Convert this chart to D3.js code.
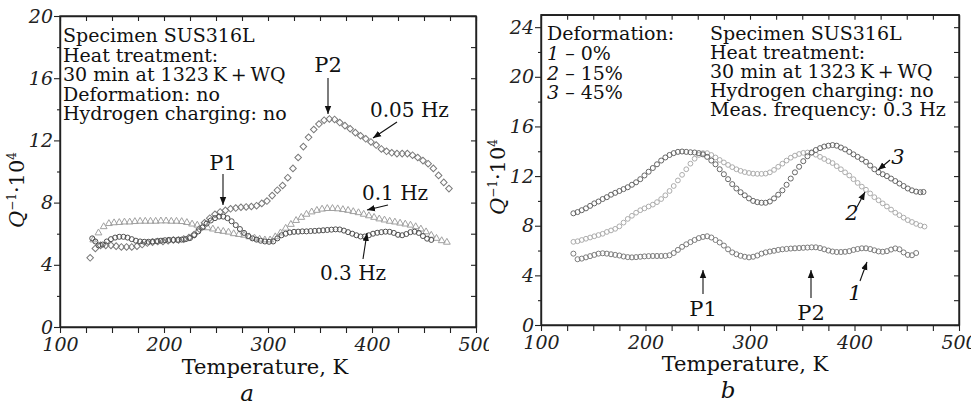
<!DOCTYPE html>
<html>
<head>
<meta charset="utf-8">
<script src="https://cdn.jsdelivr.net/npm/d3@7"></script>
<style>
body { margin: 0; background: #fff; }
svg { display: block; font-family: "DejaVu Serif", serif; }
.tick text { font-family: "DejaVu Serif", serif; font-style: italic; font-size: 19px; fill: #222; }
.info { font-size: 19px; fill: #111; }
</style>
</head>
<body>
<script>
const W = 971, H = 405;

// panel a: Q^-1 x 10^4 vs temperature, three frequencies  [T, Q]
const hz005 = [[129,4.45],[134,5.05],[139,5.25],[144,5.25],[149,5.25],[154,5.2],[159,5.15],[164,5.15],[169,5.15],[174,5.2],
  [179,5.3],[184,5.4],[189,5.45],[194,5.5],[199,5.5],[204,5.55],[209,5.6],[214,5.6],[219,5.65],[224,5.75],[229,5.95],
  [234,6.3],[239,6.7],[244,7.0],[249,7.25],[254,7.4],[259,7.5],[264,7.6],[269,7.65],[274,7.7],[279,7.72],[284,7.75],
  [289,7.8],[294,7.95],[299,8.1],[304,8.45],[309,8.8],[314,9.1],[319,9.6],[324,10.2],[329,10.9],[334,11.6],[339,12.2],
  [344,12.7],[349,13.05],[354,13.3],[359,13.38],[364,13.35],[369,13.15],[374,12.95],[379,12.75],[384,12.5],[389,12.3],
  [394,12.1],[399,11.9],[404,11.7],[409,11.45],[414,11.3],[419,11.2],[424,11.15],[429,11.15],[434,11.15],[439,11.05],
  [444,10.9],[449,10.7],[454,10.5],[459,10.2],[464,9.75],[469,9.3],[474,8.9]];
const hz01 = [[132,5.6],[137,6.05],[142,6.45],[147,6.65],[152,6.7],[157,6.72],[162,6.75],[167,6.75],[172,6.78],[177,6.8],
  [182,6.8],[187,6.8],[192,6.8],[197,6.82],[202,6.82],[207,6.8],[212,6.8],[217,6.78],[222,6.72],[227,6.62],[232,6.55],
  [237,6.45],[242,6.38],[247,6.3],[252,6.2],[257,6.15],[262,6.1],[267,6.0],[272,5.95],[277,5.9],[282,5.8],[287,5.72],
  [292,5.65],[297,5.6],[302,5.6],[307,5.8],[312,6.05],[317,6.35],[322,6.6],[327,6.85],[332,7.05],[337,7.25],[342,7.4],
  [347,7.5],[352,7.58],[357,7.62],[362,7.62],[367,7.6],[372,7.55],[377,7.5],[382,7.42],[387,7.35],[392,7.25],[397,7.15],
  [402,7.05],[407,6.95],[412,6.88],[417,6.8],[422,6.75],[427,6.68],[432,6.62],[437,6.55],[442,6.45],[447,6.3],[452,6.12],
  [457,5.9],[462,5.7],[467,5.55],[472,5.45]];
const hz03 = [[131,5.7],[134,5.5],[137,5.25],[141,5.3],[145,5.5],[149,5.65],[153,5.75],[157,5.8],[161,5.8],[165,5.75],
  [169,5.65],[173,5.55],[177,5.5],[181,5.48],[185,5.48],[189,5.5],[193,5.52],[197,5.55],[201,5.58],[205,5.6],[209,5.6],
  [213,5.6],[217,5.62],[221,5.65],[225,5.72],[229,5.9],[233,6.15],[237,6.4],[241,6.65],[245,6.85],[249,7.0],[253,7.1],
  [257,7.1],[261,7.0],[265,6.8],[269,6.55],[273,6.3],[277,6.05],[281,5.85],[285,5.7],[289,5.62],[293,5.55],[297,5.5],
  [301,5.48],[305,5.5],[309,5.7],[313,5.9],[317,6.0],[321,6.08],[325,6.12],[329,6.13],[333,6.15],[337,6.15],[341,6.17],
  [345,6.18],[349,6.2],[353,6.22],[357,6.24],[361,6.26],[365,6.28],[369,6.27],[373,6.2],[377,6.1],[381,6.0],[385,5.9],
  [389,5.82],[393,5.82],[397,5.9],[401,6.0],[405,6.06],[409,6.1],[413,6.13],[417,6.12],[421,6.05],[425,5.93],[429,5.9],
  [433,5.98],[437,6.1],[441,6.13],[445,6.05],[449,5.85],[453,5.68],[457,5.6]];

// panel b: deformation 0 %, 15 %, 45 % at 0.3 Hz  [T, Q]
const def0 = [[131,5.75],[135,5.3],[139,5.35],[143,5.45],[147,5.55],[151,5.65],[155,5.75],[159,5.78],[163,5.75],[167,5.7],
  [171,5.65],[175,5.6],[179,5.52],[183,5.47],[187,5.45],[191,5.47],[195,5.5],[199,5.53],[203,5.55],[207,5.56],[211,5.56],
  [215,5.56],[219,5.57],[223,5.62],[227,5.8],[231,6.05],[235,6.3],[239,6.5],[243,6.68],[247,6.85],[251,7.0],[255,7.1],
  [259,7.15],[263,7.05],[267,6.85],[271,6.65],[275,6.4],[279,6.1],[283,5.85],[287,5.7],[291,5.58],[295,5.5],[299,5.45],
  [303,5.5],[307,5.6],[311,5.75],[315,5.85],[319,5.92],[323,5.98],[327,6.05],[331,6.1],[335,6.13],[339,6.16],[343,6.18],
  [347,6.2],[351,6.22],[355,6.24],[359,6.26],[363,6.26],[367,6.2],[371,6.1],[375,6.0],[379,5.92],[383,5.88],[387,5.88],
  [391,5.9],[395,5.95],[399,6.05],[403,6.12],[407,6.18],[411,6.18],[415,6.12],[419,6.02],[423,5.93],[427,5.9],[431,5.95],
  [435,6.08],[439,6.17],[443,6.1],[447,5.85],[451,5.65],[455,5.62],[459,5.8]];
const def15 = [[131,6.7],[135,6.75],[139,6.85],[143,6.95],[147,7.05],[151,7.15],[155,7.25],[159,7.35],[163,7.5],[167,7.62],
  [171,7.75],[175,7.95],[179,8.25],[183,8.55],[187,8.8],[191,9.05],[195,9.25],[199,9.4],[203,9.55],[207,9.7],[211,9.9],
  [215,10.15],[219,10.45],[223,10.8],[227,11.2],[231,11.65],[235,12.1],[239,12.55],[243,13.0],[247,13.4],[251,13.7],
  [255,13.85],[259,13.85],[263,13.7],[267,13.5],[271,13.3],[275,13.1],[279,12.9],[283,12.72],[287,12.55],[291,12.42],
  [295,12.32],[299,12.25],[303,12.2],[307,12.18],[311,12.18],[315,12.2],[319,12.3],[323,12.5],[327,12.75],[331,13.0],
  [335,13.25],[339,13.48],[343,13.65],[347,13.78],[351,13.87],[355,13.9],[359,13.87],[363,13.72],[367,13.55],[371,13.38],
  [375,13.2],[379,13.05],[383,12.8],[387,12.55],[391,12.3],[395,12.05],[399,11.75],[403,11.45],[407,11.15],[411,10.9],
  [415,10.6],[419,10.3],[423,10.05],[427,9.8],[431,9.55],[435,9.3],[439,9.05],[443,8.85],[447,8.65],[451,8.45],[455,8.3],
  [459,8.15],[463,8.02],[467,7.93]];
const def45 = [[131,9.0],[135,9.1],[139,9.25],[143,9.4],[147,9.6],[151,9.8],[155,9.95],[159,10.15],[163,10.3],[167,10.5],
  [171,10.65],[175,10.8],[179,10.95],[183,11.1],[187,11.3],[191,11.5],[195,11.75],[199,12.05],[203,12.35],[207,12.65],
  [211,12.95],[215,13.25],[219,13.5],[223,13.7],[227,13.85],[231,13.95],[235,13.98],[239,13.95],[243,13.92],[247,13.9],
  [251,13.85],[255,13.75],[259,13.55],[263,13.25],[267,12.95],[271,12.55],[275,12.15],[279,11.75],[283,11.35],[287,11.0],
  [291,10.7],[295,10.45],[299,10.2],[303,10.0],[307,9.9],[311,9.85],[315,9.85],[319,9.95],[323,10.2],[327,10.5],[331,10.85],
  [335,11.3],[339,11.8],[343,12.3],[347,12.75],[351,13.2],[355,13.6],[359,13.9],[363,14.1],[367,14.25],[371,14.38],
  [375,14.45],[379,14.5],[383,14.45],[387,14.3],[391,14.15],[395,13.95],[399,13.75],[403,13.55],[407,13.35],[411,13.15],
  [415,12.85],[419,12.55],[423,12.3],[427,12.15],[431,12.0],[435,11.8],[439,11.6],[443,11.4],[447,11.2],[451,11.0],
  [455,10.85],[459,10.75],[463,10.7],[466,10.72]];

const tempLabels = [100, 200, 300, 400, 500];
const qLabelsA = [0, 4, 8, 12, 16, 20];
const qLabelsB = [0, 4, 8, 12, 16, 20, 24];

const svg = d3.select('body').append('svg').attr('width', W).attr('height', H);

const defs = svg.append('defs');
defs.append('marker').attr('id', 'arr').attr('viewBox', '0 0 10 10').attr('refX', 10).attr('refY', 5)
  .attr('markerWidth', 8).attr('markerHeight', 8).attr('markerUnits', 'userSpaceOnUse').attr('orient', 'auto')
  .append('path').attr('d', 'M0,1 L10,5 L0,9 Z').attr('fill', '#111');
defs.append('clipPath').attr('id', 'clipA').append('rect').attr('x', 0).attr('y', 0).attr('width', 489).attr('height', H);

function panel(g, x, y, yMax, qLabels) {
  const x0 = x.range()[0], x1 = x.range()[1];
  const y0 = y.range()[0], y1 = y.range()[1];

  const xb = g.append('g').attr('transform', `translate(0,${y0})`)
    .call(d3.axisBottom(x).tickValues(d3.range(100, 501, 25)).tickSize(6).tickSizeOuter(0)
      .tickFormat(d => tempLabels.includes(d) ? d : ''));
  xb.selectAll('text').attr('dy', '0.78em');
  g.append('g').attr('transform', `translate(0,${y1})`)
    .call(d3.axisTop(x).tickValues(d3.range(100, 501, 25)).tickSize(-5).tickSizeOuter(0).tickFormat(''));

  const yl = g.append('g').attr('transform', `translate(${x0},0)`)
    .call(d3.axisLeft(y).tickValues(d3.range(0, yMax + 0.1, 2)).tickSize(6).tickSizeOuter(0)
      .tickFormat(d => qLabels.includes(d) ? d : ''));
  yl.selectAll('.tick').filter(d => !qLabels.includes(d)).select('line').attr('x2', -3);
  yl.selectAll('text').attr('x', -7);
  g.append('g').attr('transform', `translate(${x1},0)`)
    .call(d3.axisRight(y).tickValues(d3.range(0, yMax + 0.1, 2)).tickSize(-5).tickSizeOuter(0).tickFormat(''));

  g.selectAll('.domain').attr('stroke', '#222').attr('stroke-width', 1.4);
  g.selectAll('.tick line').attr('stroke', '#222').attr('stroke-width', 1.1);
  g.append('rect').attr('x', x0).attr('y', y1).attr('width', x1 - x0).attr('height', y0 - y1)
    .attr('fill', 'none').attr('stroke', '#222').attr('stroke-width', 1.4);
}

function series(g, x, y, data, sym, size, color, rot) {
  g.append('g').selectAll('path').data(data).join('path')
    .attr('d', d3.symbol(sym, size))
    .attr('transform', d => `translate(${x(d[0])},${y(d[1])})` + (rot ? ' rotate(45)' : ''))
    .attr('fill', 'none').attr('stroke', color).attr('stroke-width', 1);
}

function arrow(g, xa, ya, xb, yb) {
  g.append('line').attr('x1', xa).attr('y1', ya).attr('x2', xb).attr('y2', yb)
    .attr('stroke', '#111').attr('stroke-width', 1.1).attr('marker-end', 'url(#arr)');
}

function label(g, xp, yp, txt, size, anchor, italic) {
  return g.append('text').attr('x', xp).attr('y', yp).attr('font-size', size)
    .attr('text-anchor', anchor || 'start').attr('font-style', italic ? 'italic' : null)
    .attr('fill', '#111').text(txt);
}

function yTitle(g, xp, yp) {
  const t = g.append('text').attr('transform', `translate(${xp},${yp}) rotate(-90)`)
    .attr('text-anchor', 'middle').attr('font-size', 21).attr('fill', '#111');
  t.append('tspan').attr('font-style', 'italic').text('Q');
  t.append('tspan').attr('font-size', 12).attr('dy', -8).text('\u22121');
  t.append('tspan').attr('dy', 8).text('\u00b710');
  t.append('tspan').attr('font-size', 12).attr('dy', -8).text('4');
}

// ---- panel a
const ga = svg.append('g').attr('clip-path', 'url(#clipA)');
const xa = d3.scaleLinear().domain([100, 500]).range([60, 476]);
const ya = d3.scaleLinear().domain([0, 20]).range([327, 16]);
panel(ga, xa, ya, 20, qLabelsA);
series(ga, xa, ya, hz01, d3.symbolTriangle, 20, '#a0a0a0');
series(ga, xa, ya, hz005, d3.symbolSquare, 22, '#7a7a7a', true);
series(ga, xa, ya, hz03, d3.symbolCircle, 20, '#505050');

['Specimen SUS316L', 'Heat treatment:', '30 min at 1323\u2009K\u2009+\u2009WQ', 'Deformation: no', 'Hydrogen charging: no']
  .forEach((s, i) => label(ga, 63, 42 + i * 19.5, s, 19).attr('class', 'info'));

label(ga, 328, 72, 'P2', 21, 'middle');
arrow(ga, 328, 78, 328, 114);
label(ga, 223, 170, 'P1', 21, 'middle');
arrow(ga, 223, 174, 223, 205);
label(ga, 370, 117, '0.05 Hz', 20);
arrow(ga, 397, 122, 373, 138);
label(ga, 362, 200, '0.1 Hz', 20);
arrow(ga, 388, 205, 367, 210);
label(ga, 320, 280, '0.3 Hz', 20);
arrow(ga, 363, 259, 367, 233);

label(ga, 265, 374, 'Temperature, K', 21, 'middle');
label(ga, 247, 401, 'a', 23, 'middle', true);
yTitle(ga, 24, 190);

// ---- panel b
const gb = svg.append('g');
const xb = d3.scaleLinear().domain([100, 500]).range([541, 959]);
const yb = d3.scaleLinear().domain([0, 25]).range([325, 14.75]);
panel(gb, xb, yb, 24, qLabelsB);
series(gb, xb, yb, def15, d3.symbolCircle, 18, '#acacac');
series(gb, xb, yb, def45, d3.symbolCircle, 20, '#666');
series(gb, xb, yb, def0, d3.symbolCircle, 20, '#7c7c7c');

label(gb, 547, 40, 'Deformation:', 19).attr('class', 'info');
[['1', '0%'], ['2', '15%'], ['3', '45%']].forEach((p, i) => {
  const t = label(gb, 547, 60 + i * 19.5, '', 19).attr('class', 'info');
  t.append('tspan').attr('font-style', 'italic').text(p[0]);
  t.append('tspan').text(' \u2013 ' + p[1]);
});
['Specimen SUS316L', 'Heat treatment:', '30 min at 1323\u2009K\u2009+\u2009WQ', 'Hydrogen charging: no', 'Meas. frequency: 0.3 Hz']
  .forEach((s, i) => label(gb, 710, 40 + i * 19, s, 19).attr('class', 'info'));

label(gb, 898, 164, '3', 21, 'middle', true);
arrow(gb, 890, 160, 878, 170);
label(gb, 852, 220, '2', 21, 'middle', true);
arrow(gb, 857, 207, 865, 192);
label(gb, 855, 300, '1', 21, 'middle', true);
arrow(gb, 860, 281, 867, 262);
label(gb, 703, 316, 'P1', 21, 'middle');
arrow(gb, 703, 294, 703, 270);
label(gb, 811, 320, 'P2', 21, 'middle');
arrow(gb, 811, 298, 811, 270);

label(gb, 745, 371, 'Temperature, K', 21, 'middle');
label(gb, 728, 398, 'b', 23, 'middle', true);
yTitle(gb, 505, 177);
</script>
</body>
</html>
